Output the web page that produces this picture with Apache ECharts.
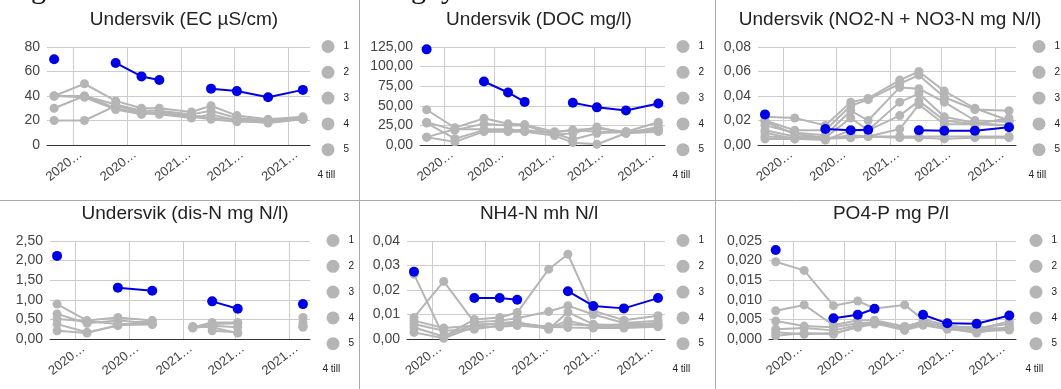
<!DOCTYPE html>
<html>
<head>
<meta charset="utf-8">
<script src="https://cdn.jsdelivr.net/npm/echarts@6/dist/echarts.min.js"></script>
<style>
  html, body { margin: 0; padding: 0; background: #fff; }
  #main { width: 1061px; height: 389px; }
</style>
</head>
<body>
<div id="main"></div>
<script>
// sampling dates
const dates = ["2020-08-11", "2020-09-14", "2020-10-19", "2020-11-17", "2020-12-07",
  "2021-01-12", "2021-02-03", "2021-03-04", "2021-04-08", "2021-05-17"];
// dis-N was taken a bit later in november
const disDates = ["2020-08-11", "2020-09-14", "2020-10-19", "2020-11-27", "2020-12-07",
  "2021-01-12", "2021-02-03", "2021-03-04", "2021-04-08", "2021-05-17"];
const xRange = ["2020-08-03", "2021-05-25"];
const xTicks = ["2020-09-01", "2020-11-01", "2021-01-01", "2021-03-01", "2021-05-01"];
const xTickLabels = ["2020…", "2020…", "2021…", "2021…", "2021…"];
const legendNames = ["1", "2", "3", "4", "5"];
const moreText = "4 till";

// EC µS/cm
const ecTicks = ["0", "20", "40", "60", "80"];
const ecGray = [
  [40, 50, 36, 30, 30, 27, 32, 24, 21, 23],
  [30, 40, 33, 28, 28, 25, 28, 22, 20, 22],
  [40, 40, 30, 26, 25, 22, 25, 20, 18, 21],
  [20, 20, 32, 27, 26, 23, 21, 19, 19, 21],
  [40, 39, 29, 25, 27, 24, 22, 21, 20, 22],
];
const ecBlue = [70, null, 67, 56, 53, null, 46, 44, 39, 45];

// DOC mg/l
const docTicks = ["0,00", "25,00", "50,00", "75,00", "100,00", "125,00"];
const docGray = [
  [45, 22, 34, 27, 26, 17, 19, 21, 17, 29],
  [29, 19, 27, 25, 25, 13, 15, 23, 15, 23],
  [28, 8, 19, 19, 19, 15, 7, 15, 17, 20],
  [10, 4, 17, 17, 17, 12, 3, 1, 15, 17],
  [10, 20, 20, 20, 18, 16, 19, 17, 16, 18],
];
const docBlue = [122, null, 81, 67, 55, null, 54, 48, 44, 53];

// NO2-N + NO3-N
const no3Ticks = ["0,00", "0,02", "0,04", "0,06", "0,08"];
const no3Gray = [
  [0.023, 0.022, 0.016, 0.035, 0.038, 0.053, 0.060, 0.044, 0.030, 0.020],
  [0.020, 0.012, 0.012, 0.032, 0.037, 0.050, 0.057, 0.039, 0.029, 0.028],
  [0.016, 0.010, 0.008, 0.028, 0.020, 0.047, 0.046, 0.035, 0.020, 0.019],
  [0.012, 0.007, 0.006, 0.022, 0.012, 0.035, 0.042, 0.023, 0.018, 0.016],
  [0.010, 0.005, 0.004, 0.012, 0.012, 0.024, 0.036, 0.020, 0.017, 0.022],
  [0.007, 0.006, 0.005, 0.008, 0.007, 0.013, 0.033, 0.017, 0.017, 0.016],
  [0.005, 0.005, 0.005, 0.006, 0.007, 0.007, 0.007, 0.007, 0.007, 0.007],
  [0.019, 0.009, 0.006, 0.006, 0.007, 0.006, 0.006, 0.005, 0.006, 0.006],
];
const no3Blue = [0.025, null, 0.013, 0.012, 0.0125, null, 0.012, 0.0117, 0.0117, 0.0145];

// dis-N
const disTicks = ["0,00", "0,50", "1,00", "1,50", "2,00", "2,50"];
const disGray = [
  [0.89, 0.47, 0.55, 0.47, null, 0.30, 0.42, 0.42, null, 0.55],
  [0.64, 0.40, 0.47, 0.40, null, 0.28, 0.34, 0.30, null, 0.42],
  [0.51, 0.45, 0.38, 0.38, null, null, 0.21, 0.17, null, 0.30],
  [0.38, 0.17, 0.34, 0.47, null, 0.30, 0.38, 0.40, null, 0.35],
  [0.21, 0.15, 0.36, 0.37, null, 0.32, 0.30, 0.15, null, 0.32],
];
const disBlue = [2.12, null, 1.31, 1.23, null, null, 0.96, 0.77, null, 0.89];

// NH4-N
const nh4Ticks = ["0,00", "0,01", "0,02", "0,03", "0,04"];
const nh4Gray = [
  [0.0264, 0.0010, 0.0080, 0.0088, 0.0108, 0.0285, 0.0346, 0.0115, 0.0077, 0.0095],
  [0.0088, 0.0235, 0.0068, 0.0075, 0.0085, 0.0112, 0.0136, 0.0100, 0.0065, 0.0075],
  [0.0075, 0.0045, 0.0054, 0.0065, 0.0070, 0.0040, 0.0110, 0.0060, 0.0055, 0.0060],
  [0.0061, 0.0034, 0.0040, 0.0055, 0.0060, 0.0045, 0.0075, 0.0050, 0.0050, 0.0054],
  [0.0047, 0.0010, 0.0060, 0.0060, 0.0065, 0.0050, 0.0047, 0.0045, 0.0045, 0.0050],
  [0.0027, 0.0003, 0.0050, 0.0050, 0.0055, 0.0045, 0.0060, 0.0055, 0.0060, 0.0065],
];
const nh4Blue = [0.0275, null, 0.0167, 0.0167, 0.016, null, 0.0195, 0.0135, 0.0125, 0.0167];

// PO4-P
const po4Ticks = ["0,000", "0,005", "0,010", "0,015", "0,020", "0,025"];
const po4Gray = [
  [0.0197, 0.0175, 0.0085, 0.0097, 0.0078, 0.0087, 0.0050, 0.0035, 0.0025, 0.0045],
  [0.0072, 0.0087, 0.0035, 0.0048, 0.0048, 0.0032, 0.0045, 0.0030, 0.0028, 0.0038],
  [0.0046, 0.0033, 0.0030, 0.0040, 0.0042, 0.0025, 0.0040, 0.0027, 0.0015, 0.0030],
  [0.0025, 0.0028, 0.0022, 0.0035, 0.0040, 0.0022, 0.0035, 0.0025, 0.0020, 0.0023],
  [0.0017, 0.0012, 0.0015, 0.0030, 0.0038, 0.0030, 0.0038, 0.0028, 0.0022, 0.0030],
  [0.0008, 0.0015, 0.0012, 0.0032, 0.0045, 0.0028, 0.0042, 0.0032, 0.0030, 0.0025],
];
const po4Blue = [0.0227, null, 0.0053, 0.0062, 0.0077, null, 0.0062, 0.0040, 0.0039, 0.0060];

const GRAY = "#b5b5b5";
const BLUE = "#0000e6";
const T = (d) => echarts.time.parse(d).getTime();
const tickTimes = xTicks.map(T);

const panels = [
  { title: "Undersvik (EC µS/cm)", ticks: ecTicks, max: 80, step: 20, dates: dates, gray: ecGray, blue: ecBlue,
    box: { left: 47, width: 263, top: 47, tx: 184, ty: 10, lx: 321.5, ly: 40 } },
  { title: "Undersvik (DOC mg/l)", ticks: docTicks, max: 125, step: 25, dates: dates, gray: docGray, blue: docBlue,
    box: { left: 420, width: 245, top: 47, tx: 539, ty: 10, lx: 676.5, ly: 40 } },
  { title: "Undersvik (NO2-N + NO3-N mg N/l)", ticks: no3Ticks, max: 0.08, step: 0.02, dates: dates, gray: no3Gray, blue: no3Blue,
    box: { left: 758, width: 258, top: 47, tx: 890, ty: 10, lx: 1032.5, ly: 40 } },
  { title: "Undersvik (dis-N mg N/l)", ticks: disTicks, max: 2.5, step: 0.5, dates: disDates, gray: disGray, blue: disBlue,
    box: { left: 50, width: 260, top: 241, tx: 185, ty: 204, lx: 326.5, ly: 234 } },
  { title: "NH4-N mh N/l", ticks: nh4Ticks, max: 0.04, step: 0.01, dates: dates, gray: nh4Gray, blue: nh4Blue,
    box: { left: 407, width: 258, top: 241, tx: 539, ty: 204, lx: 676.5, ly: 234 } },
  { title: "PO4-P mg P/l", ticks: po4Ticks, max: 0.025, step: 0.005, dates: dates, gray: po4Gray, blue: po4Blue,
    box: { left: 769, width: 247, top: 241, tx: 891, ty: 204, lx: 1029.5, ly: 234 } },
];

const titles = [], grids = [], xAxes = [], yAxes = [], legends = [], series = [];
const graphics = [
  { type: "line", shape: { x1: 359.5, y1: 0, x2: 359.5, y2: 389 }, style: { stroke: "#aaa", lineWidth: 1 } },
  { type: "line", shape: { x1: 715.5, y1: 0, x2: 715.5, y2: 389 }, style: { stroke: "#aaa", lineWidth: 1 } },
  { type: "line", shape: { x1: 0, y1: 200.5, x2: 1061, y2: 200.5 }, style: { stroke: "#aaa", lineWidth: 1 } },
  // descenders of the page heading cut off at the top edge
  { type: "text", x: 31, y: 5, style: { text: "g", font: "30px 'Liberation Serif'", fill: "#111", verticalAlign: "bottom" } },
  { type: "text", x: 411, y: 5, style: { text: "g", font: "30px 'Liberation Serif'", fill: "#111", verticalAlign: "bottom" } },
  { type: "text", x: 441, y: 5, style: { text: "y", font: "30px 'Liberation Serif'", fill: "#111", verticalAlign: "bottom" } },
];

panels.forEach((p, i) => {
  const b = p.box;
  titles.push({
    text: p.title, left: b.tx, top: b.ty, textAlign: "center", padding: 0,
    textStyle: { fontSize: 19, fontWeight: "normal", color: "#222", fontFamily: "Liberation Sans, Arial" },
  });
  grids.push({ left: b.left, top: b.top, width: b.width, height: 98 });
  xAxes.push({
    type: "value", gridIndex: i, min: T(xRange[0]), max: T(xRange[1]),
    axisLine: { show: true, lineStyle: { color: "#333", width: 1 } },
    axisTick: { show: false, customValues: tickTimes },
    splitLine: { show: true, lineStyle: { color: "#cccccc", width: 1 } },
    axisLabel: {
      customValues: tickTimes, rotate: 38, fontSize: 13, color: "#444", margin: 14,
      padding: [0, -10, 0, 0],
      formatter: (v) => {
        let k = 0;
        tickTimes.forEach((t, j) => { if (Math.abs(t - v) < Math.abs(tickTimes[k] - v)) k = j; });
        return xTickLabels[k];
      },
    },
  });
  yAxes.push({
    type: "value", gridIndex: i, min: 0, max: p.max, interval: p.step,
    axisLine: { show: false }, axisTick: { show: false },
    splitLine: { lineStyle: { color: "#cccccc", width: 1 } },
    axisLabel: { fontSize: 14, color: "#444", margin: 7, formatter: (v, idx) => p.ticks[idx] },
  });
  legends.push({
    data: legendNames, orient: "vertical", left: b.lx, top: b.ly, padding: 0,
    itemWidth: 13, itemHeight: 13, itemGap: 12.8, icon: "circle", selectedMode: false,
    textStyle: { fontSize: 10, color: "#222", padding: [0, 0, 0, 4] },
  });
  graphics.push({
    type: "text", x: b.lx - 4, y: b.ly + 130,
    style: { text: moreText, fontSize: 10, fill: "#222", fontFamily: "Liberation Sans, Arial" },
  });
  p.gray.forEach((vals, k) => {
    series.push({
      name: String(k + 1), type: "line", xAxisIndex: i, yAxisIndex: i,
      data: p.dates.map((d, j) => [T(d), vals[j]]),
      symbol: "circle", symbolSize: 9,
      lineStyle: { width: 2, color: GRAY }, itemStyle: { color: GRAY },
      emphasis: { disabled: true },
    });
  });
  series.push({
    name: "9", type: "line", xAxisIndex: i, yAxisIndex: i,
    data: p.dates.map((d, j) => [T(d), p.blue[j]]),
    symbol: "circle", symbolSize: 10, z: 5,
    lineStyle: { width: 2, color: BLUE }, itemStyle: { color: BLUE },
    emphasis: { disabled: true },
  });
});

const chart = echarts.init(document.getElementById("main"), null, { renderer: "canvas" });
chart.setOption({
  animation: false,
  textStyle: { fontFamily: "Liberation Sans, Arial" },
  title: titles,
  grid: grids,
  xAxis: xAxes,
  yAxis: yAxes,
  legend: legends,
  graphic: graphics,
  series: series,
});
window.onresize = chart.resize;
</script>
</body>
</html>
